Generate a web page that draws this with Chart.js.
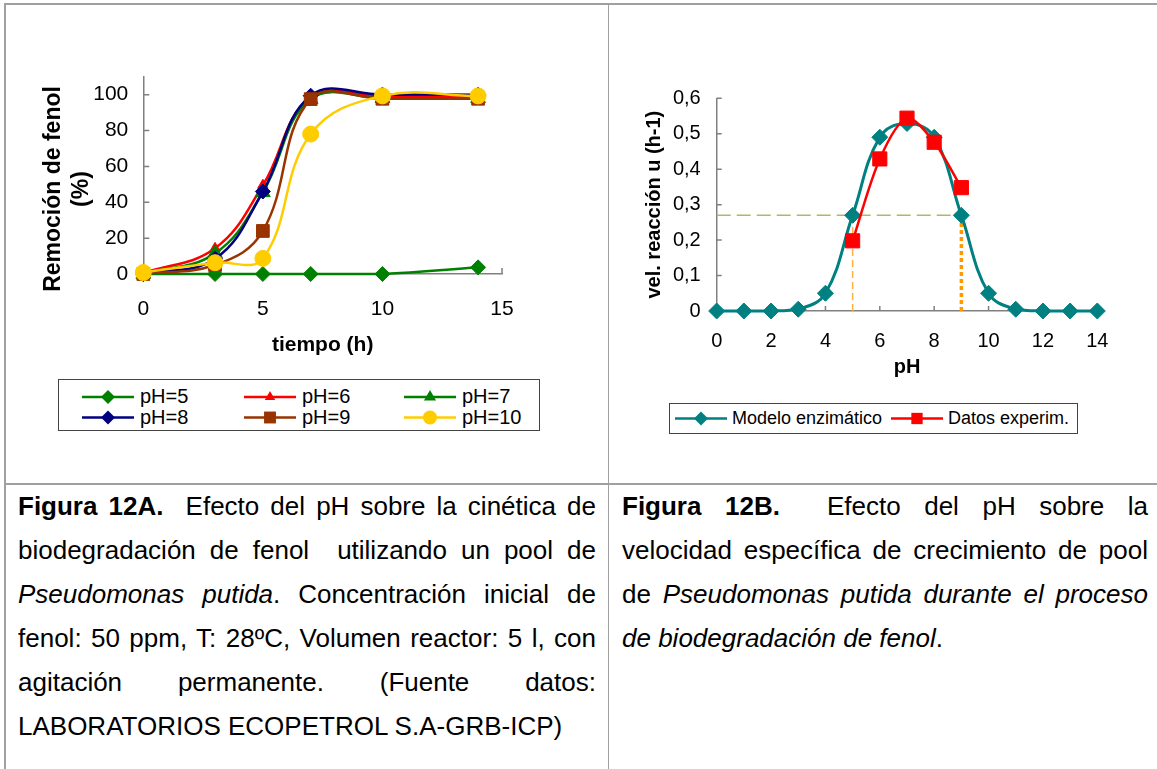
<!DOCTYPE html>
<html>
<head>
<meta charset="utf-8">
<script src="https://cdn.jsdelivr.net/npm/chart.js@4.4.1/dist/chart.umd.min.js"></script>
<style>
html,body{margin:0;padding:0;background:#fff;width:1157px;height:769px;overflow:hidden;font-family:"Liberation Sans",Arial,sans-serif;color:#000}
.abs{position:absolute}
.rule{position:absolute;background:#a0a0a0}
.cap{position:absolute;font-size:26px;line-height:44.2px}
.cap div{height:44.2px;text-align:justify;text-align-last:justify}
.cap div.last{text-align:left;text-align-last:left}
.legtxt{position:absolute;white-space:nowrap;line-height:1}
.ytitle{position:absolute;width:260px;height:56px;text-align:center;font-weight:bold;font-size:23px;line-height:28px;transform:rotate(-90deg)}
</style>
</head>
<body>
<!-- table rules -->
<div class="rule" style="left:4px;top:3px;width:1153px;height:2px"></div>
<div class="rule" style="left:4px;top:3px;width:2px;height:766px"></div>
<div class="rule" style="left:608px;top:4px;width:1px;height:765px"></div>
<div class="rule" style="left:5px;top:483px;width:1152px;height:2px"></div>

<canvas id="cA" class="abs" style="left:20px;top:60px" width="520" height="310"></canvas>
<div class="ytitle" style="left:-64px;top:161px">Remoción de fenol<br>(%)</div>
<div id="legA" class="abs" style="left:58px;top:379px;width:480px;height:50px;border:1px solid #444"></div>

<canvas id="cB" class="abs" style="left:630px;top:70px" width="500" height="320"></canvas>
<div id="legB" class="abs" style="left:669px;top:403px;width:407px;height:29px;border:1px solid #444"></div>

<div class="cap" style="left:18px;top:483.5px;width:578px">
<div><b>Figura 12A.</b>&nbsp; Efecto del pH sobre la cinética de</div>
<div>biodegradación de fenol&nbsp; utilizando un pool de</div>
<div><i>Pseudomonas putida</i>. Concentración inicial de</div>
<div>fenol: 50 ppm, T: 28ºC, Volumen reactor: 5 l, con</div>
<div>agitación permanente. (Fuente datos:</div>
<div class="last">LABORATORIOS ECOPETROL S.A-GRB-ICP)</div>
</div>
<div class="cap" style="left:622px;top:483.5px;width:526px">
<div><b>Figura 12B.</b>&nbsp; Efecto del pH sobre la</div>
<div>velocidad específica de crecimiento de pool</div>
<div>de <i>Pseudomonas putida durante el proceso</i></div>
<div class="last"><i>de biodegradación de fenol</i>.</div>
</div>

<script>
// ---------- Data: Figure 12A ----------
const timeHours = [0, 3, 5, 7, 10, 14];
const removalPH5 = [0, 0, 0, 0, 0, 3.7];
const removalPH6 = [0.5, 14.3, 49.5, 98.5, 99, 99];
const removalPH7 = [0, 11.5, 45.5, 97.5, 98, 98];
const removalPH8 = [0, 8.5, 46, 99.4, 100, 100];
const removalPH9 = [0, 5, 24, 97.5, 97.7, 97.7];
const removalPH10 = [0.8, 6.3, 8.7, 78, 99.3, 99.3];
const seriesNamesA = ['pH=5', 'pH=6', 'pH=7', 'pH=8', 'pH=9', 'pH=10'];
const xTicksA = [0, 5, 10, 15];
const yTicksA = [0, 20, 40, 60, 80, 100];

// ---------- Data: Figure 12B ----------
const phValues = [0, 1, 2, 3, 4, 5, 6, 7, 8, 9, 10, 11, 12, 13, 14];
const modelRate = [0, 0, 0, 0.005, 0.05, 0.27, 0.49, 0.529, 0.49, 0.27, 0.05, 0.005, 0, 0, 0];
const expPH = [5, 6, 7, 8, 9];
const expRate = [0.198, 0.429, 0.544, 0.476, 0.348];
const refRate = 0.27;
const refPH = [5, 9];
const seriesNamesB = ['Modelo enzimático', 'Datos experim.'];

// ---------- styles ----------
const FONT = '"Liberation Sans", Arial, sans-serif';
const AXIS = '#808080';
const valuesA = [removalPH5, removalPH6, removalPH7, removalPH8, removalPH9, removalPH10];
const styleA = [
  {color:'#008000', shape:'rectRot', r:7.5},
  {color:'#FF0000', shape:'triangle', r:6},
  {color:'#008000', shape:'triangle', r:8.5},
  {color:'#000080', shape:'rectRot', r:7.5},
  {color:'#993300', shape:'rect', r:9},
  {color:'#FFCC00', shape:'circle', r:8}
];

const innerTicks = {
  id: 'innerTicks',
  beforeDatasetsDraw(chart, args, opts) {
    const ctx = chart.ctx, xs = chart.scales.x, ys = chart.scales.y;
    ctx.save();
    ctx.strokeStyle = opts.color; ctx.lineWidth = opts.width;
    ctx.beginPath();
    xs.ticks.forEach(t => { const p = xs.getPixelForValue(t.value); ctx.moveTo(p, ys.bottom); ctx.lineTo(p, ys.bottom - opts.len); });
    ys.ticks.forEach(t => { const p = ys.getPixelForValue(t.value); ctx.moveTo(xs.left, p); ctx.lineTo(xs.left + opts.len, p); });
    ctx.stroke();
    ctx.restore();
  }
};
function zeroPad(s) { s.paddingTop = 0; s.paddingBottom = 0; s.paddingLeft = 0; s.paddingRight = 0; }

// ---------- Chart A ----------
new Chart(document.getElementById('cA'), {
  type: 'line',
  data: {
    datasets: valuesA.map((vals, i) => ({
      label: seriesNamesA[i],
      data: timeHours.map((t, j) => ({x: t, y: vals[j]})),
      borderColor: styleA[i].color,
      backgroundColor: styleA[i].color,
      pointBackgroundColor: styleA[i].color,
      pointBorderColor: styleA[i].color,
      pointStyle: styleA[i].shape,
      pointRadius: styleA[i].r,
      pointBorderWidth: 1,
      borderWidth: 2.5,
      tension: 0.4,
      clip: false,
      order: 10 - i
    }))
  },
  options: {
    responsive: false, animation: false, devicePixelRatio: 1,
    layout: {padding: {left: 0, top: 16.7, right: 38, bottom: 0}},
    plugins: {legend: {display: false}, tooltip: {enabled: false},
      innerTicks: {color: AXIS, width: 1.5, len: 6}},
    scales: {
      x: {type: 'linear', min: 0, max: 15,
        afterBuildTicks: s => { s.ticks = xTicksA.map(v => ({value: v})); },
        ticks: {padding: 23, color: '#000', font: {size: 21, family: FONT}},
        grid: {display: false, drawTicks: false},
        border: {color: AXIS, width: 1.5},
        title: {display: true, text: 'tiempo (h)', color: '#000', font: {size: 21, weight: 'bold', family: FONT}, padding: {top: 0, bottom: 12}},
        afterFit: s => { s.height = 96; zeroPad(s); }
      },
      y: {type: 'linear', min: 0, max: 110,
        afterBuildTicks: s => { s.ticks = yTicksA.map(v => ({value: v})); },
        ticks: {padding: 15, color: '#000', font: {size: 21, family: FONT}},
        grid: {display: false, drawTicks: false},
        border: {color: AXIS, width: 1.5},
        afterFit: s => { s.width = 123.3; zeroPad(s); }
      }
    }
  },
  plugins: [innerTicks]
});

// ---------- Chart B ----------
new Chart(document.getElementById('cB'), {
  type: 'line',
  data: {
    datasets: [
      {label: seriesNamesB[0], data: phValues.map((p, i) => ({x: p, y: modelRate[i]})),
        borderColor: '#008080', backgroundColor: '#008080', pointBackgroundColor: '#008080', pointBorderColor: '#008080',
        pointStyle: 'rectRot', pointRadius: 8, pointBorderWidth: 1, borderWidth: 3, tension: 0.4, clip: false, order: 3},
      {label: seriesNamesB[1], data: expPH.map((p, i) => ({x: p, y: expRate[i]})),
        borderColor: '#FF0000', backgroundColor: '#FF0000', pointBackgroundColor: '#FF0000', pointBorderColor: '#FF0000',
        pointStyle: 'rect', pointRadius: 10, pointBorderWidth: 1, borderWidth: 2.5, tension: 0.3, clip: false, order: 1},
      {label: 'ref-h', data: [{x: 0, y: refRate}, {x: refPH[1], y: refRate}],
        borderColor: '#B4B46C', borderDash: [14, 6], borderWidth: 1.5, pointRadius: 0, tension: 0, order: 6},
      {label: 'ref-v1', data: [{x: refPH[0], y: 0}, {x: refPH[0], y: refRate}],
        borderColor: '#FFB040', borderDash: [7, 4], borderWidth: 1.5, pointRadius: 0, tension: 0, order: 5},
      {label: 'ref-v2', data: [{x: refPH[1], y: 0}, {x: refPH[1], y: refRate}],
        borderColor: '#FF9900', borderDash: [4, 3], borderWidth: 3.5, pointRadius: 0, tension: 0, order: 4}
    ]
  },
  options: {
    responsive: false, animation: false, devicePixelRatio: 1,
    layout: {padding: {left: 0, top: 28.3, right: 32.7, bottom: 0}},
    plugins: {legend: {display: false}, tooltip: {enabled: false},
      innerTicks: {color: AXIS, width: 1.5, len: 5}},
    scales: {
      x: {type: 'linear', min: 0, max: 14,
        ticks: {stepSize: 2, padding: 18, color: '#000', font: {size: 20, family: FONT}},
        grid: {display: false, drawTicks: false},
        border: {color: AXIS, width: 1.5},
        title: {display: true, text: 'pH', color: '#000', font: {size: 20, weight: 'bold', family: FONT}, padding: {top: 0, bottom: 11}},
        afterFit: s => { s.height = 79; zeroPad(s); }
      },
      y: {type: 'linear', min: 0, max: 0.6,
        ticks: {stepSize: 0.1, padding: 16, color: '#000', font: {size: 20, family: FONT},
          callback: v => (Math.abs(v) < 1e-9 ? '0' : v.toFixed(1).replace('.', ','))},
        grid: {display: false, drawTicks: false},
        border: {color: AXIS, width: 1.5},
        title: {display: true, text: 'vel. reacción u (h-1)', color: '#000', font: {size: 20, weight: 'bold', family: FONT}, padding: {top: 12, bottom: 0}},
        afterFit: s => { s.width = 86.7; zeroPad(s); }
      }
    }
  },
  plugins: [innerTicks]
});

// ---------- HTML legends ----------
function markerSVG(shape, color, cx, cy, r) {
  if (shape === 'rectRot') return `<polygon points="${cx},${cy-r} ${cx+r},${cy} ${cx},${cy+r} ${cx-r},${cy}" fill="${color}"/>`;
  if (shape === 'triangle') { const w = r * 0.866; return `<polygon points="${cx},${cy-r} ${cx+w},${cy+r/2} ${cx-w},${cy+r/2}" fill="${color}"/>`; }
  if (shape === 'rect') { const s = r * 0.7071; return `<rect x="${cx-s}" y="${cy-s}" width="${2*s}" height="${2*s}" fill="${color}"/>`; }
  return `<circle cx="${cx}" cy="${cy}" r="${r}" fill="${color}"/>`;
}
function buildLegend(el, items, opt) {
  let svg = `<svg class="abs" style="left:0;top:0" width="${opt.w}" height="${opt.h}">`;
  let html = '';
  items.forEach((it, i) => {
    const col = i % opt.cols, row = Math.floor(i / opt.cols);
    const x0 = opt.colX[col], cy = opt.rowY[row];
    svg += `<line x1="${x0}" y1="${cy}" x2="${x0+opt.lineLen}" y2="${cy}" stroke="${it.color}" stroke-width="${opt.lw}"/>`;
    svg += markerSVG(it.shape, it.color, x0 + opt.lineLen/2, cy, it.r);
    html += `<span class="legtxt" style="left:${x0+opt.lineLen+opt.gap}px;top:${cy - opt.fs*0.55}px;font-size:${opt.fs}px">${it.label}</span>`;
  });
  svg += '</svg>';
  el.innerHTML = svg + html;
}
buildLegend(document.getElementById('legA'),
  seriesNamesA.map((n, i) => ({label: n, color: styleA[i].color, shape: styleA[i].shape, r: Math.min(styleA[i].r, 7) * (styleA[i].shape === 'rect' ? 1.2 : 1)})),
  {w: 480, h: 50, cols: 3, colX: [23, 185, 345], rowY: [17, 37.5], lineLen: 52, gap: 6, lw: 2.5, fs: 20});
buildLegend(document.getElementById('legB'),
  [{label: seriesNamesB[0], color: '#008080', shape: 'rectRot', r: 7}, {label: seriesNamesB[1], color: '#FF0000', shape: 'rect', r: 8}],
  {w: 407, h: 29, cols: 2, colX: [5, 221], rowY: [14.5], lineLen: 52, gap: 5, lw: 2.5, fs: 18});
</script>
</body>
</html>
